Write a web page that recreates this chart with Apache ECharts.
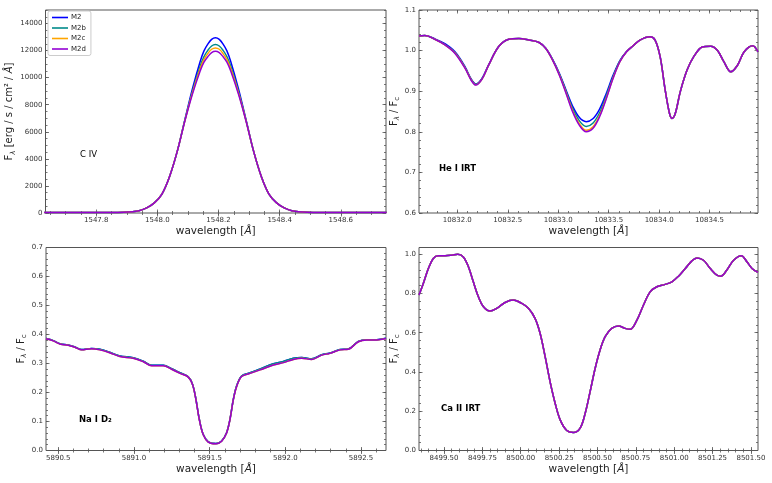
<!DOCTYPE html>
<html>
<head>
<meta charset="utf-8">
<script src="https://cdn.jsdelivr.net/npm/echarts@6.0.0/dist/echarts.min.js"></script>
<style>
  html, body { margin: 0; padding: 0; background: #fff; }
  #chart { width: 772px; height: 483px; }
</style>
</head>
<body>
<div id="chart"></div>
<script>
// ---- data ----
const models = ['M2', 'M2b', 'M2c', 'M2d'];
const colors = ['#0000ff', '#008b8b', '#ffa500', '#9400d3'];

// C IV (flux, erg/s/cm2/A)
const civWave = [1547.63, 1547.70, 1547.80, 1547.84, 1547.89, 1547.94, 1547.965, 1547.99, 1548.015, 1548.04,
  1548.065, 1548.09, 1548.115, 1548.14, 1548.1525, 1548.165, 1548.1775, 1548.19, 1548.2025, 1548.215,
  1548.2275, 1548.24, 1548.265, 1548.29, 1548.315, 1548.34, 1548.365, 1548.39, 1548.415, 1548.44,
  1548.49, 1548.54, 1548.65, 1548.75];
const civM2  = [40, 40, 41, 42, 60, 170, 380, 750, 1400, 2700, 4550, 6900, 9200, 11200, 11980, 12480, 12830, 12950, 12830, 12480,
  11980, 11200, 9200, 6900, 4550, 2700, 1400, 750, 380, 170, 60, 42, 40, 40];
const civM2b = [40, 40, 41, 42, 60, 170, 380, 750, 1400, 2700, 4550, 6850, 9000, 10850, 11560, 12020, 12340, 12450, 12340, 12020,
  11560, 10850, 9000, 6850, 4550, 2700, 1400, 750, 380, 170, 60, 42, 40, 40];
const civM2c = [40, 40, 41, 42, 60, 170, 380, 750, 1400, 2700, 4550, 6820, 8900, 10670, 11350, 11780, 12100, 12200, 12100, 11780,
  11350, 10670, 8900, 6820, 4550, 2700, 1400, 750, 380, 170, 60, 42, 40, 40];
const civM2d = [40, 40, 41, 42, 60, 170, 380, 750, 1400, 2700, 4550, 6800, 8815, 10500, 11150, 11550, 11850, 11950, 11850, 11550,
  11150, 10500, 8815, 6800, 4550, 2700, 1400, 750, 380, 170, 60, 42, 40, 40];

// He I IRT (normalised)
const heWave = [10831.62, 10831.677, 10831.777, 10831.877, 10831.977, 10832.077, 10832.137, 10832.183, 10832.243, 10832.31,
  10832.41, 10832.51, 10832.61, 10832.71, 10832.81, 10832.877, 10832.943, 10833.01, 10833.077, 10833.143,
  10833.21, 10833.277, 10833.343, 10833.41, 10833.477, 10833.543, 10833.61, 10833.677, 10833.743, 10833.81,
  10833.91, 10833.96, 10834.01, 10834.06, 10834.103, 10834.127, 10834.16, 10834.21, 10834.277, 10834.343,
  10834.427, 10834.51, 10834.577, 10834.643, 10834.71, 10834.777, 10834.843, 10834.927, 10834.98];
const heM2  = [1.036, 1.037, 1.029, 1.017, 0.997, 0.960, 0.930, 0.918, 0.931, 0.965, 1.010, 1.028, 1.030, 1.026, 1.020, 1.006, 0.979, 0.945, 0.903, 0.863,
  0.835, 0.825, 0.832, 0.856, 0.895, 0.939, 0.975, 0.998, 1.012, 1.026, 1.034, 1.026, 0.985, 0.903, 0.845, 0.833, 0.845, 0.899, 0.952, 0.985,
  1.009, 1.011, 1.001, 0.972, 0.948, 0.964, 0.997, 1.012, 0.997];
const heM2b = [1.036, 1.037, 1.028, 1.015, 0.995, 0.958, 0.929, 0.917, 0.930, 0.964, 1.010, 1.028, 1.030, 1.026, 1.020, 1.005, 0.978, 0.943, 0.900, 0.857,
  0.827, 0.813, 0.821, 0.847, 0.889, 0.935, 0.974, 0.997, 1.012, 1.026, 1.034, 1.026, 0.985, 0.903, 0.845, 0.833, 0.845, 0.899, 0.952, 0.985,
  1.009, 1.011, 1.001, 0.972, 0.948, 0.964, 0.997, 1.012, 0.997];
const heM2c = [1.036, 1.037, 1.028, 1.014, 0.994, 0.957, 0.928, 0.916, 0.929, 0.964, 1.010, 1.028, 1.030, 1.026, 1.020, 1.005, 0.977, 0.941, 0.897, 0.852,
  0.820, 0.804, 0.812, 0.840, 0.884, 0.932, 0.972, 0.997, 1.012, 1.026, 1.034, 1.026, 0.985, 0.903, 0.845, 0.833, 0.845, 0.899, 0.952, 0.985,
  1.009, 1.011, 1.001, 0.972, 0.948, 0.964, 0.997, 1.012, 0.997];
const heM2d = [1.036, 1.037, 1.028, 1.014, 0.993, 0.956, 0.927, 0.915, 0.929, 0.964, 1.010, 1.028, 1.030, 1.026, 1.020, 1.005, 0.977, 0.940, 0.895, 0.849,
  0.816, 0.800, 0.808, 0.837, 0.882, 0.931, 0.972, 0.997, 1.012, 1.026, 1.034, 1.026, 0.985, 0.903, 0.845, 0.833, 0.845, 0.899, 0.952, 0.985,
  1.009, 1.011, 1.001, 0.972, 0.948, 0.964, 0.997, 1.012, 0.997];

// Na I D2 (normalised)
const naWave = [5890.419, 5890.467, 5890.511, 5890.566, 5890.61, 5890.654, 5890.72, 5890.775, 5890.84, 5890.907,
  5890.995, 5891.062, 5891.117, 5891.194, 5891.249, 5891.304, 5891.359, 5891.388, 5891.41, 5891.432,
  5891.458, 5891.491, 5891.542, 5891.579, 5891.612, 5891.634, 5891.656, 5891.678, 5891.711, 5891.767,
  5891.833, 5891.921, 5891.987, 5892.053, 5892.108, 5892.174, 5892.24, 5892.295, 5892.361, 5892.416,
  5892.482, 5892.537, 5892.603, 5892.665];
const naM2  = [0.386, 0.379, 0.368, 0.364, 0.357, 0.348, 0.352, 0.349, 0.339, 0.326, 0.320, 0.308, 0.294, 0.294, 0.282, 0.268, 0.254, 0.227, 0.175, 0.107,
  0.055, 0.030, 0.024, 0.033, 0.061, 0.107, 0.175, 0.222, 0.257, 0.268, 0.281, 0.299, 0.307, 0.318, 0.321, 0.316, 0.330, 0.336, 0.348, 0.350,
  0.376, 0.382, 0.382, 0.387];
const naM2d = [0.385, 0.378, 0.367, 0.363, 0.356, 0.347, 0.351, 0.347, 0.337, 0.324, 0.318, 0.306, 0.292, 0.292, 0.280, 0.266, 0.253, 0.226, 0.174, 0.106,
  0.054, 0.029, 0.023, 0.032, 0.060, 0.106, 0.174, 0.220, 0.255, 0.266, 0.278, 0.295, 0.303, 0.314, 0.318, 0.314, 0.329, 0.335, 0.347, 0.349,
  0.375, 0.381, 0.381, 0.386];
const naM2b = naM2;
const naM2c = naM2d;

// Ca II IRT (normalised, all models overlap)
const caWave = [8499.337, 8499.365, 8499.398, 8499.43, 8499.463, 8499.507, 8499.55, 8499.589, 8499.626, 8499.659,
  8499.691, 8499.724, 8499.757, 8499.8, 8499.843, 8499.898, 8499.952, 8500.007, 8500.05, 8500.093,
  8500.126, 8500.159, 8500.191, 8500.224, 8500.257, 8500.3, 8500.343, 8500.387, 8500.42, 8500.452,
  8500.485, 8500.517, 8500.55, 8500.593, 8500.637, 8500.68, 8500.713, 8500.757, 8500.8, 8500.843,
  8500.887, 8500.941, 8500.985, 8501.028, 8501.072, 8501.115, 8501.148, 8501.191, 8501.235, 8501.278,
  8501.304, 8501.343, 8501.387, 8501.437, 8501.474, 8501.507, 8501.546];
const caM2d = [0.792, 0.851, 0.927, 0.978, 0.992, 0.992, 0.995, 1.000, 0.986, 0.936, 0.859, 0.783, 0.732, 0.710, 0.724, 0.754, 0.766, 0.749, 0.724, 0.673,
  0.597, 0.478, 0.351, 0.241, 0.156, 0.102, 0.092, 0.114, 0.190, 0.300, 0.419, 0.512, 0.580, 0.622, 0.634, 0.622, 0.617, 0.664, 0.741, 0.808,
  0.834, 0.846, 0.859, 0.888, 0.927, 0.966, 0.981, 0.969, 0.927, 0.893, 0.888, 0.919, 0.969, 0.992, 0.961, 0.927, 0.907];
const caM2 = caM2d, caM2b = caM2d, caM2c = caM2d;

// tick labels
const civXTicks = [1547.8, 1548.0, 1548.2, 1548.4, 1548.6];
const civYTicks = [0, 2000, 4000, 6000, 8000, 10000, 12000, 14000];
const heXTicks = [10832.0, 10832.5, 10833.0, 10833.5, 10834.0, 10834.5];
const heYTicks = [0.6, 0.7, 0.8, 0.9, 1.0, 1.1];
const naXTicks = [5890.5, 5891.0, 5891.5, 5892.0, 5892.5];
const naYTicks = [0.0, 0.1, 0.2, 0.3, 0.4, 0.5, 0.6, 0.7];
const caXTicks = [8499.50, 8499.75, 8500.00, 8500.25, 8500.50, 8500.75, 8501.00, 8501.25, 8501.50];
const caYTicks = [0.0, 0.2, 0.4, 0.6, 0.8, 1.0];

// ---- layout ----
const FONT = 'DejaVu Sans';
const FRAME = '#555';

function minorTicks(lo, hi, step) {
  const out = [];
  let v = Math.ceil(lo / step - 1e-9) * step;
  for (; v <= hi + 1e-9; v += step) out.push(+v.toFixed(6));
  return out;
}

const fluxName = '{n|F}{s|λ}{n| [erg / s / cm² / }{i|Å}{n|]}';
const normName = '{n|F}{s|λ}{n| / F}{c|c}';

const panels = [
  { rect: { left: 45.5, top: 10, width: 340.5, height: 203 }, x: [1547.634, 1548.748], y: [0, 15000],
    xt: civXTicks, yt: civYTicks, xm: 0.05, ym: 500, xd: 1, yd: 0, yName: fluxName, yGap: 24,
    wave: civWave, vals: [civM2, civM2b, civM2c, civM2d], label: 'C IV', lx: 80, ly: 150.5, bold: false },
  { rect: { left: 419, top: 10, width: 339, height: 203 }, x: [10831.62, 10834.98], y: [0.6, 1.1],
    xt: heXTicks, yt: heYTicks, xm: 0.1, ym: 0.02, xd: 1, yd: 1, yName: normName, yGap: 14,
    wave: heWave, vals: [heM2, heM2b, heM2c, heM2d], label: 'He I IRT', lx: 439, ly: 164.5, bold: true },
  { rect: { left: 46, top: 247.5, width: 340, height: 203 }, x: [5890.419, 5892.665], y: [0, 0.7],
    xt: naXTicks, yt: naYTicks, xm: 0.1, ym: 0.02, xd: 1, yd: 1, yName: normName, yGap: 15,
    wave: naWave, vals: [naM2, naM2b, naM2c, naM2d], label: 'Na I D₂', lx: 79, ly: 415, bold: true },
  { rect: { left: 419, top: 247.5, width: 339, height: 203 }, x: [8499.337, 8501.546], y: [0, 1.034],
    xt: caXTicks, yt: caYTicks, xm: 0.05, ym: 0.04, xd: 2, yd: 1, yName: normName, yGap: 14,
    wave: caWave, vals: [caM2, caM2b, caM2c, caM2d], label: 'Ca II IRT', lx: 441, ly: 404, bold: true }
];

const grids = [], xAxes = [], yAxes = [], series = [], graphics = [];

panels.forEach((p, i) => {
  grids.push(Object.assign({ show: true, borderColor: FRAME, borderWidth: 1, backgroundColor: 'transparent' }, p.rect));

  const base = { gridIndex: i, type: 'value', axisLine: { show: false }, splitLine: { show: false } };
  const tick = (vals, len) => ({ show: true, inside: true, length: len, customValues: vals, lineStyle: { color: FRAME, width: 0.8 } });
  const noLabel = { show: false };
  const xMinor = minorTicks(p.x[0], p.x[1], p.xm);
  const yMinor = minorTicks(p.y[0], p.y[1], p.ym);

  xAxes.push(Object.assign({}, base, {
    position: 'bottom', min: p.x[0], max: p.x[1],
    axisTick: tick(p.xt, 3.5),
    axisLabel: { customValues: p.xt, formatter: v => v.toFixed(p.xd), fontSize: 7, color: '#333', fontFamily: FONT, margin: 4 },
    name: '{n|wavelength [}{i|Å}{n|]}', nameLocation: 'middle', nameGap: 13,
    nameTextStyle: { rich: {
      n: { fontSize: 10.5, fontFamily: FONT, color: '#222' },
      i: { fontSize: 10.5, fontFamily: FONT, fontStyle: 'italic', color: '#222' } } }
  }));
  xAxes.push(Object.assign({}, base, { position: 'bottom', min: p.x[0], max: p.x[1], axisTick: tick(xMinor, 2), axisLabel: noLabel }));
  xAxes.push(Object.assign({}, base, { position: 'top', min: p.x[0], max: p.x[1], axisTick: tick(p.xt, 3.5), axisLabel: noLabel }));
  xAxes.push(Object.assign({}, base, { position: 'top', min: p.x[0], max: p.x[1], axisTick: tick(xMinor, 2), axisLabel: noLabel }));

  yAxes.push(Object.assign({}, base, {
    position: 'left', min: p.y[0], max: p.y[1],
    axisTick: tick(p.yt, 3.5),
    axisLabel: { customValues: p.yt, formatter: v => v.toFixed(p.yd), fontSize: 7, color: '#333', fontFamily: FONT, margin: 3 },
    name: p.yName, nameLocation: 'middle', nameGap: p.yGap, nameRotate: 90,
    nameTextStyle: { rich: {
      n: { fontSize: 10, fontFamily: FONT, color: '#222', lineHeight: 13 },
      i: { fontSize: 10, fontFamily: FONT, fontStyle: 'italic', color: '#222', lineHeight: 13 },
      s: { fontSize: 7, fontFamily: FONT, fontStyle: 'italic', color: '#222', verticalAlign: 'bottom', lineHeight: 13 },
      c: { fontSize: 7, fontFamily: FONT, color: '#222', verticalAlign: 'bottom', lineHeight: 13 } } }
  }));
  yAxes.push(Object.assign({}, base, { position: 'left', min: p.y[0], max: p.y[1], axisTick: tick(yMinor, 2), axisLabel: noLabel }));
  yAxes.push(Object.assign({}, base, { position: 'right', min: p.y[0], max: p.y[1], axisTick: tick(p.yt, 3.5), axisLabel: noLabel }));
  yAxes.push(Object.assign({}, base, { position: 'right', min: p.y[0], max: p.y[1], axisTick: tick(yMinor, 2), axisLabel: noLabel }));

  models.forEach((m, k) => {
    series.push({
      name: m, type: 'line', xAxisIndex: i * 4, yAxisIndex: i * 4,
      data: p.wave.map((w, j) => [w, p.vals[k][j]]),
      symbol: 'none', smooth: 0.35, clip: true, animation: false,
      lineStyle: { color: colors[k], width: 1.5 }, itemStyle: { color: colors[k] }, z: 2 + k
    });
  });

  graphics.push({
    type: 'text', left: p.lx, top: p.ly,
    style: { text: p.label, fill: '#000', font: (p.bold ? 'bold ' : '') + '8.5px "DejaVu Sans"' }
  });
});

const chart = echarts.init(document.getElementById('chart'), null, { renderer: 'canvas' });
chart.setOption({
  animation: false,
  backgroundColor: '#fff',
  grid: grids,
  xAxis: xAxes,
  yAxis: yAxes,
  series: series,
  graphic: graphics,
  legend: {
    data: models, orient: 'vertical', left: 48, top: 11,
    icon: 'rect', itemWidth: 16, itemHeight: 1.6, itemGap: 3.5,
    padding: [3, 5, 3, 4], borderColor: '#ccc', borderWidth: 1, borderRadius: 2, backgroundColor: '#fff',
    textStyle: { fontSize: 7, fontFamily: FONT, color: '#222', padding: [0, 0, 0, -2] }
  }
});
</script>
</body>
</html>
